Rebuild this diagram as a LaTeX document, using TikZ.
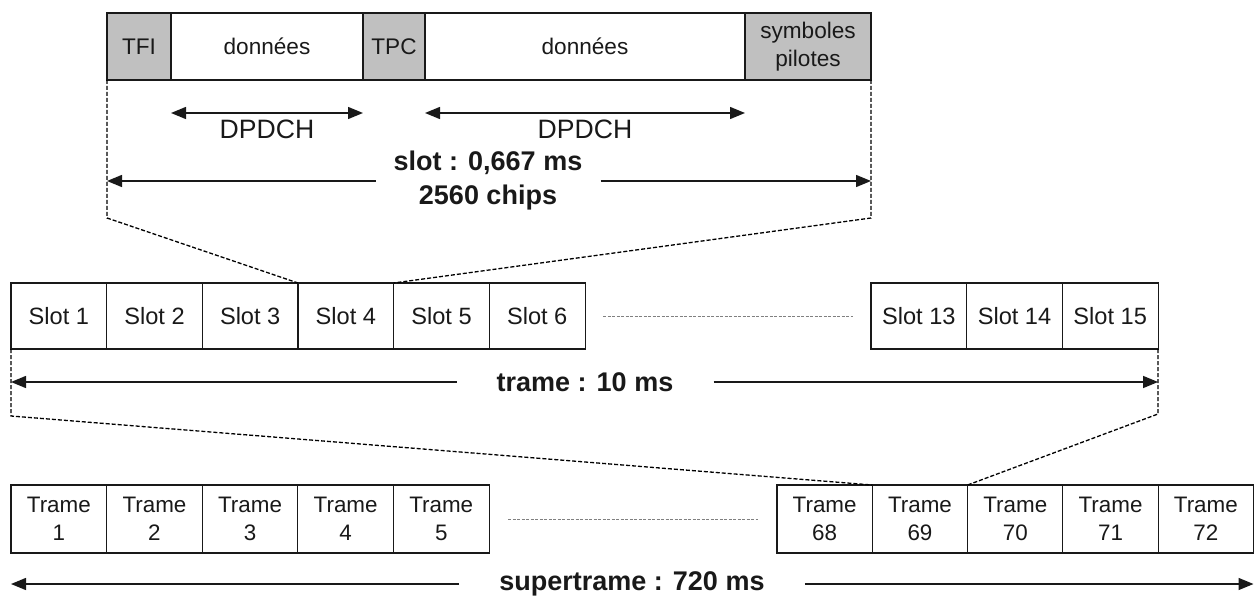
\documentclass[tikz,border=0pt]{standalone}
\usepackage{fontspec}
\setmainfont{Liberation Sans}
\usetikzlibrary{arrows.meta}
\definecolor{ink}{RGB}{25,25,25}
\definecolor{hdrgray}{RGB}{192,192,192}
\begin{document}
\begin{tikzpicture}[x=1pt,y=-1pt,
  every node/.style={text=ink},
  field/.style={draw=ink, line width=1.1pt, minimum height=67pt, inner sep=0pt,
    outer sep=0pt, anchor=north west, align=center,
    font=\fontsize{22.6}{28}\selectfont},
  ctrl/.style={field, fill=hdrgray},
  slotbox/.style={draw=ink, line width=1.1pt, minimum height=66pt, minimum width=95.7pt,
    inner sep=0pt, outer sep=0pt, anchor=north west,
    font=\fontsize{23.6}{28}\selectfont},
  framebox/.style={slotbox, minimum height=68pt, align=center,
    font=\fontsize{22.4}{28}\selectfont},
  dimarrow/.style={draw=ink, line width=1.4pt, -{Triangle[length=15pt,width=12pt]}},
  biarrow/.style={draw=ink, line width=1.4pt, {Triangle[length=15pt,width=12pt]}-{Triangle[length=15pt,width=12pt]}},
  zoomline/.style={draw=black, line width=1.3pt, dash pattern=on 4pt off 2pt},
  gapline/.style={draw=gray, line width=1pt, dash pattern=on 3pt off 1.5pt},
  dimlabel/.style={font=\bfseries\fontsize{27}{34}\selectfont, align=center, inner ysep=0pt}
]
\useasboundingbox (0,0) rectangle (1260,596);

% ---- slot structure ----
\node[ctrl,  minimum width=64pt]  (tfi)  at (107,13) {TFI};
\node[field, minimum width=192pt] (dat1) at (171,13) {données};
\node[ctrl,  minimum width=62pt]  (tpc)  at (363,13) {TPC};
\node[field, minimum width=320pt] (dat2) at (425,13) {données};
\node[ctrl,  minimum width=126pt] (pil)  at (745,13) {symboles\\pilotes};

% DPDCH extents
\draw[biarrow] ([yshift=-33pt]dat1.south west) -- ([yshift=-33pt]dat1.south east);
\draw[biarrow] ([yshift=-33pt]dat2.south west) -- ([yshift=-33pt]dat2.south east);
\node[font=\fontsize{26.6}{28}\selectfont] (dp1) at (267,129) {DPDCH};
\node[font=\fontsize{26.6}{28}\selectfont] (dp2) at (585,129) {DPDCH};

% slot duration
\node[dimlabel, inner xsep=18pt] (slotlbl) at (488,181) {slot : 0,667 ms\\2560 chips};
\draw[dimarrow] (slotlbl.west) -- (tfi.west |- slotlbl.west);
\draw[dimarrow] (slotlbl.east) -- (pil.east |- slotlbl.east);

% ---- frame: 15 slots ----
\foreach \i in {1,...,6}
  \node[slotbox] (s\i) at ({11+(\i-1)*95.67},283) {Slot \i};
\foreach \i [count=\k from 0] in {13,14,15}
  \node[slotbox] (s\i) at ({871+\k*95.67},283) {Slot \i};
\draw[gapline] ([xshift=18pt]s6.east) -- ([xshift=-18pt]s13.west);

% zoom from slot 4 to the slot structure
\coordinate (zl) at (107,218);
\coordinate (zr) at (871,218);
\draw[zoomline] (tfi.south west) -- (zl) -- (s4.north west);
\draw[zoomline] (pil.south east) -- (zr) -- (s4.north east);

% frame duration
\node[dimlabel, inner xsep=40pt] (framelbl) at (585,382) {trame : 10 ms};
\draw[dimarrow] (framelbl.west) -- (s1.west |- framelbl.west);
\draw[dimarrow] (framelbl.east) -- (s15.east |- framelbl.east);

% ---- superframe: 72 frames ----
\foreach \i in {1,...,5}
  \node[framebox] (t\i) at ({11+(\i-1)*95.6},485) {Trame\\\i};
\foreach \i [count=\k from 0] in {68,...,72}
  \node[framebox, minimum width=95.3pt] (t\i) at ({777+\k*95.3},485) {Trame\\\i};
\draw[gapline] ([xshift=19pt]t5.east) -- ([xshift=-19pt]t68.west);

% zoom from frame 69 to the slot row
\coordinate (fl) at (11,416);
\coordinate (fr) at (1158,414);
\draw[zoomline] (s1.south west) -- (fl) -- (t69.north west);
\draw[zoomline] (s15.south east) -- (fr) -- (t69.north east);

% superframe duration
\node[dimlabel, inner xsep=40pt] (superlbl) at (632,584) {supertrame : 720 ms};
\draw[dimarrow] (superlbl.west) -- (t1.west |- superlbl.west);
\draw[dimarrow] (superlbl.east) -- (t72.east |- superlbl.east);
\end{tikzpicture}
\end{document}
